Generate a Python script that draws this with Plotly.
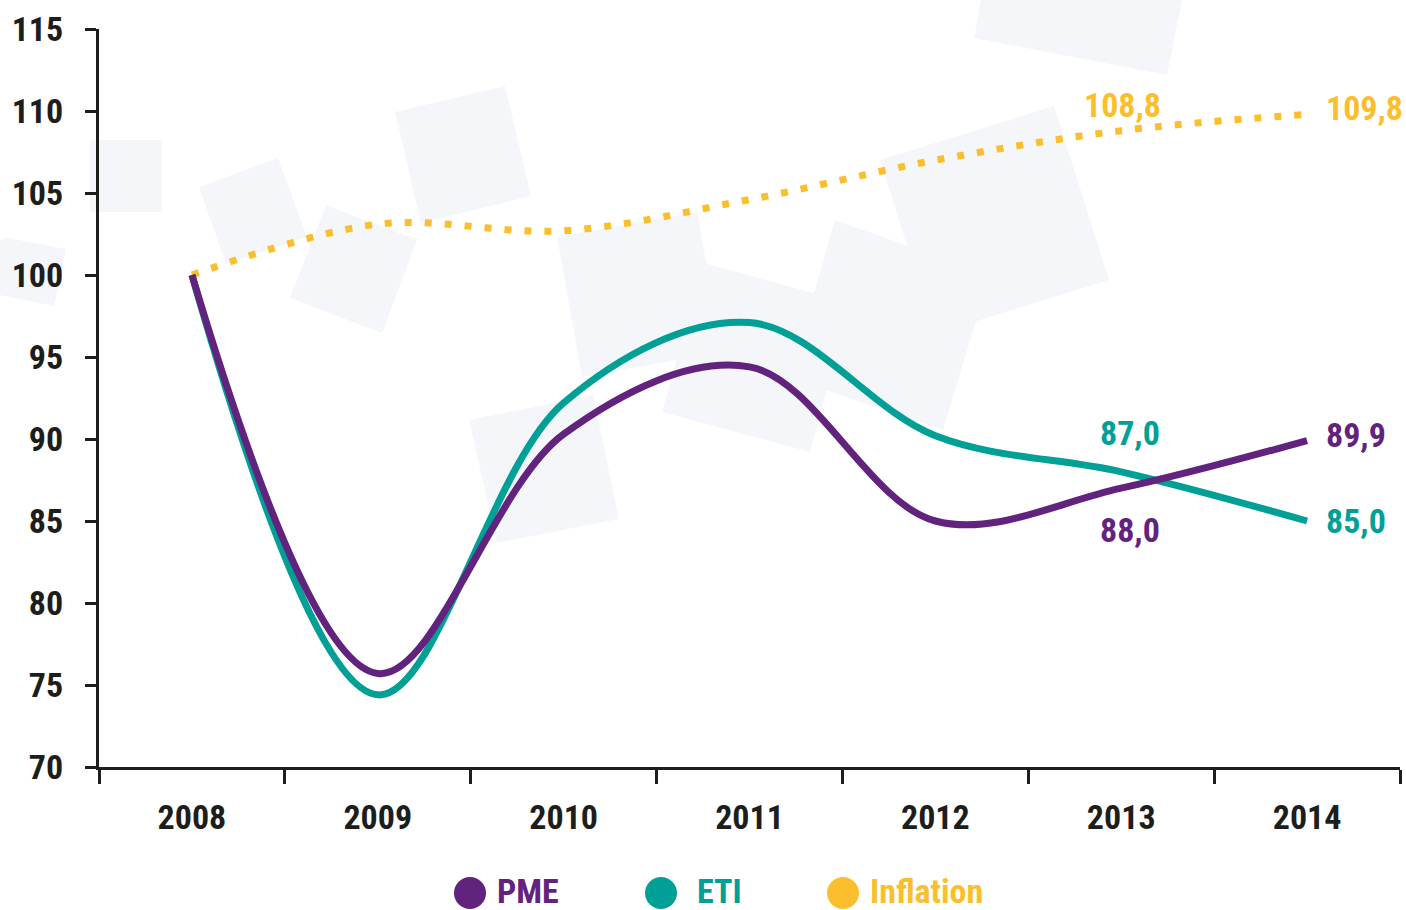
import plotly.graph_objects as go

# ---------------- data ----------------
years = ["2008", "2009", "2010", "2011", "2012", "2013", "2014"]
pme = [100.0, 75.7, 90.3, 94.4, 85.0, 87.0, 89.9]
eti = [100.0, 74.4, 92.2, 97.1, 90.2, 88.0, 85.0]
inflation = [100.0, 103.1, 102.7, 104.6, 107.0, 108.8, 109.8]
y_ticks = [70, 75, 80, 85, 90, 95, 100, 105, 110, 115]

# ---------------- style ----------------
W, H = 1406, 910
ML, MR, MT, MB = 99, 6, 29, 143
C_PME = "#62237f"
C_ETI = "#00a096"
C_INF = "#fbbf2d"
C_TXT = "#1d1d1b"
C_BG = "#f4f6f9"
FONT = "Roboto Condensed, Liberation Sans Narrow, DejaVu Sans Condensed, sans-serif"
FS = 34


def px(x, y):
    """pixel position on the page -> paper coordinates"""
    return (x - ML) / (W - ML - MR), (H - MB - y) / (H - MT - MB)


def fmt(v):
    return f"{v:.1f}".replace(".", ",")


def tfont(color):
    return dict(family=FONT, size=FS, color=color, weight="bold")


fig = go.Figure()
fig.add_trace(go.Scatter(x=years, y=inflation, mode="lines", name="Inflation",
                         line=dict(color=C_INF, width=7, dash="7px,13px", shape="spline", smoothing=1.0)))
fig.add_trace(go.Scatter(x=years, y=eti, mode="lines", name="ETI",
                         line=dict(color=C_ETI, width=7, shape="spline", smoothing=1.0)))
fig.add_trace(go.Scatter(x=years, y=pme, mode="lines", name="PME",
                         line=dict(color=C_PME, width=7, shape="spline", smoothing=1.0)))

# decorative background squares (page pixel coordinates)
bg_polys = [
    [(90, 140), (162, 140), (162, 212), (90, 212)],
    [(8, 238), (66, 249), (54, 306), (0, 295), (0, 240)],
    [(199, 187), (278, 158), (307, 237), (226, 264)],
    [(326, 205), (417, 240), (382, 333), (290, 298)],
    [(395, 112), (505, 86), (531, 196), (421, 223)],
    [(469, 420), (593, 395), (619, 519), (497, 543)],
    [(557, 237), (697, 212), (722, 352), (582, 377)],
    [(704, 263), (850, 303), (810, 452), (662, 412)],
    [(835, 220), (990, 275), (943, 430), (790, 378)],
    [(880, 160), (1054, 106), (1109, 280), (935, 334)],
    [(981, 0), (1182, 0), (1167, 75), (974, 38)],
]
shapes = []
for poly in bg_polys:
    pts = [px(a, b) for a, b in poly]
    path = "M " + " L ".join(f"{a:.5f},{b:.5f}" for a, b in pts) + " Z"
    shapes.append(dict(type="path", path=path, xref="paper", yref="paper",
                       fillcolor=C_BG, line=dict(width=0), layer="below"))

annotations = []


# data labels (x given as category index)
def dlabel(i, y, text, color, xshift=0, yshift=0, xanchor="center"):
    return dict(x=i, y=y, xref="x", yref="y", text=text, xshift=xshift, yshift=yshift,
                font=tfont(color), showarrow=False, xanchor=xanchor, yanchor="middle")


annotations.append(dlabel(5, inflation[5], fmt(inflation[5]), C_INF, xshift=1, yshift=26))
annotations.append(dlabel(6, inflation[6], fmt(inflation[6]), C_INF, xshift=17, yshift=6, xanchor="left"))
annotations.append(dlabel(6, pme[6], fmt(pme[6]), C_PME, xshift=17, yshift=6, xanchor="left"))
annotations.append(dlabel(6, eti[6], fmt(eti[6]), C_ETI, xshift=17, yshift=0, xanchor="left"))
# 2013 labels as printed in the original (colours as shown)
annotations.append(dlabel(5, eti[5], fmt(pme[5]), C_ETI, xshift=9, yshift=39))
annotations.append(dlabel(5, pme[5], fmt(eti[5]), C_PME, xshift=9, yshift=-42))

# custom legend: (label, colour, circle centre x, text offset)
legend_items = [("PME", C_PME, 470, 25), ("ETI", C_ETI, 661, 34), ("Inflation", C_INF, 843, 25)]
for name, col, cx, off in legend_items:
    x0, y0 = px(cx - 16, 893 - 16)
    x1, y1 = px(cx + 16, 893 + 16)
    shapes.append(dict(type="circle", xref="paper", yref="paper", x0=x0, x1=x1, y0=y1, y1=y0,
                       fillcolor=col, line=dict(width=0)))
    tx, ty = px(cx + off, 891)
    annotations.append(dict(x=tx, y=ty, xref="paper", yref="paper", text=name, showarrow=False,
                            xanchor="left", yanchor="middle", font=tfont(col)))

fig.update_layout(
    width=W, height=H,
    margin=dict(l=ML, r=MR, t=MT, b=MB, pad=0, autoexpand=False),
    paper_bgcolor="white", plot_bgcolor="rgba(0,0,0,0)",
    showlegend=False,
    shapes=shapes, annotations=annotations,
    font=tfont(C_TXT),
    xaxis=dict(type="category", categoryorder="array", categoryarray=years,
               range=[-0.5, 6.5], tickson="boundaries", ticks="outside", ticklen=14,
               tickwidth=2.5, tickcolor=C_TXT, showline=True, linecolor=C_TXT, linewidth=3,
               showgrid=False, zeroline=False, ticklabelstandoff=18, automargin=False,
               tickfont=tfont(C_TXT)),
    yaxis=dict(range=[70, 115], tickvals=y_ticks, ticks="outside", ticklen=11, tickwidth=3,
               tickcolor=C_TXT, showline=True, linecolor=C_TXT, linewidth=3,
               showgrid=False, zeroline=False, ticklabelstandoff=15, automargin=False,
               tickfont=tfont(C_TXT)),
)

fig.write_html("out.html", config={"displayModeBar": False},
               post_script="document.body.style.margin='0px';")
